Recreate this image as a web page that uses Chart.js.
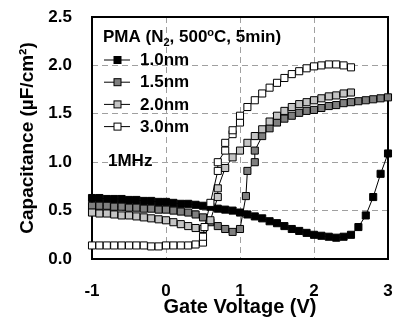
<!DOCTYPE html>
<html>
<head>
<meta charset="utf-8">
<script src="https://cdn.jsdelivr.net/npm/chart.js@4/dist/chart.umd.min.js"></script>
<style>
  html, body { margin: 0; padding: 0; background: #fff; }
</style>
</head>
<body>
<canvas id="grafico" width="394" height="326"></canvas>
<script>
// dados (V, uF/cm2)
const nomes = ['1.0nm', '1.5nm', '2.0nm', '3.0nm'];
const cores = ['#000000', '#7f7f7f', '#c4c4c4', '#ffffff'];

const v10 = [-1.0, -0.9, -0.8, -0.7, -0.6, -0.5, -0.4, -0.3, -0.2, -0.1, 0.0, 0.1, 0.2, 0.3, 0.4, 0.5, 0.6, 0.7, 0.8, 0.9,
  1.0, 1.1, 1.2, 1.3, 1.4, 1.5, 1.6, 1.7, 1.8, 1.9, 2.0, 2.1, 2.2, 2.3, 2.4, 2.5, 2.6, 2.7, 2.8, 2.9, 3.0];
const c10 = [0.63, 0.63, 0.62, 0.62, 0.62, 0.61, 0.61, 0.60, 0.60, 0.59, 0.59, 0.58, 0.57, 0.57, 0.56, 0.55, 0.54, 0.52, 0.51, 0.50,
  0.48, 0.46, 0.44, 0.42, 0.39, 0.37, 0.34, 0.31, 0.29, 0.27, 0.25, 0.24, 0.23, 0.22, 0.23, 0.25, 0.33, 0.45, 0.64, 0.88, 1.09];

const v15 = [-1.0, -0.9, -0.8, -0.7, -0.6, -0.5, -0.4, -0.3, -0.2, -0.1, 0.0, 0.1, 0.2, 0.3, 0.4, 0.5, 0.6, 0.7, 0.8, 0.9,
  1.0, 1.08, 1.1, 1.2, 1.2, 1.3, 1.4, 1.5, 1.6, 1.7, 1.8, 1.9, 2.0, 2.1, 2.2, 2.3, 2.4, 2.5, 2.6, 2.7, 2.8, 2.9, 3.0];
const c15 = [0.55, 0.55, 0.55, 0.54, 0.54, 0.53, 0.53, 0.52, 0.52, 0.51, 0.51, 0.50, 0.49, 0.48, 0.46, 0.43, 0.38, 0.34, 0.31, 0.28,
  0.31, 0.65, 0.91, 1.00, 1.12, 1.27, 1.35, 1.41, 1.45, 1.48, 1.51, 1.53, 1.54, 1.56, 1.58, 1.59, 1.61, 1.62, 1.63, 1.64, 1.65, 1.66, 1.67];

const v20 = [-1.0, -0.9, -0.8, -0.7, -0.6, -0.5, -0.4, -0.3, -0.2, -0.1, 0.0, 0.1, 0.2, 0.3, 0.4, 0.5,
  0.6, 0.7, 0.7, 0.8, 0.9, 1.0, 1.1, 1.2, 1.3, 1.4, 1.5, 1.6, 1.7, 1.8, 1.9, 2.0, 2.1, 2.2, 2.3, 2.4, 2.5];
const c20 = [0.48, 0.47, 0.47, 0.46, 0.45, 0.45, 0.44, 0.43, 0.42, 0.41, 0.40, 0.38, 0.36, 0.34, 0.32, 0.31,
  0.40, 0.64, 0.73, 0.94, 1.05, 1.12, 1.20, 1.27, 1.34, 1.42, 1.48, 1.53, 1.57, 1.60, 1.62, 1.64, 1.66, 1.68, 1.69, 1.71, 1.72];

const v30 = [-1.0, -0.9, -0.8, -0.7, -0.6, -0.5, -0.4, -0.3, -0.2, -0.1, 0.0, 0.1, 0.2, 0.3, 0.4, 0.5,
  0.5, 0.52, 0.6, 0.7, 0.7, 0.8, 0.8, 0.9, 0.9, 1.0, 1.0, 1.1, 1.2, 1.3, 1.4, 1.5, 1.6, 1.7, 1.8, 1.9, 2.0, 2.1, 2.2, 2.3, 2.4, 2.5];
const c30 = [0.14, 0.14, 0.14, 0.14, 0.14, 0.14, 0.14, 0.14, 0.13, 0.13, 0.14, 0.14, 0.14, 0.14, 0.15, 0.17,
  0.23, 0.33, 0.58, 0.91, 1.00, 1.12, 1.20, 1.29, 1.33, 1.41, 1.48, 1.57, 1.64, 1.71, 1.77, 1.82, 1.87, 1.91, 1.94, 1.97, 1.99, 2.00, 2.01, 2.01, 2.00, 1.98];

const xTicks = [-1, 0, 1, 2, 3];
const yTicks = [0.0, 0.5, 1.0, 1.5, 2.0, 2.5];

const fonte = "'Liberation Sans', Arial, sans-serif";
const series = [[v10, c10], [v15, c15], [v20, c20], [v30, c30]];

const datasets = series.map((s, i) => ({
  label: nomes[i],
  data: s[0].map((x, k) => ({ x, y: s[1][k] })),
  borderColor: '#000',
  borderWidth: 1,
  pointStyle: 'rect',
  pointRadius: 5,
  pointBorderWidth: 1,
  pointBorderColor: '#000',
  pointBackgroundColor: cores[i],
  tension: 0,
  fill: false,
  clip: false,
  order: 4 - i
}));

const moldura = {
  id: 'moldura',
  beforeDatasetsDraw(chart) {
    const { ctx, chartArea: a } = chart;
    ctx.save();
    ctx.strokeStyle = '#000';
    ctx.lineWidth = 2;
    ctx.strokeRect(a.left, a.top, a.right - a.left, a.bottom - a.top);
    ctx.restore();
  },
  afterDraw(chart) {
    const { ctx, chartArea: a } = chart;
    ctx.save();
    ctx.fillStyle = '#000';
    ctx.textBaseline = 'alphabetic';
    // titulo da legenda
    let x = a.left + 11;
    const yb = 41.5;
    const parte = (t, tam, dy) => {
      ctx.font = 'bold ' + tam + 'px ' + fonte;
      ctx.fillText(t, x, yb + dy);
      x += ctx.measureText(t).width;
    };
    parte('PMA (N', 17, 0);
    parte('2', 11, 4);
    parte(', 500', 17, 0);
    parte('o', 11, -6);
    parte('C, 5min)', 17, 0);

    // itens
    ctx.textBaseline = 'middle';
    ctx.font = 'bold 17px ' + fonte;
    nomes.forEach((n, i) => {
      const y = 60 + i * 22.2;
      ctx.strokeStyle = '#000';
      ctx.lineWidth = 1;
      ctx.beginPath();
      ctx.moveTo(a.left + 12, y);
      ctx.lineTo(a.left + 38, y);
      ctx.stroke();
      ctx.fillStyle = cores[i];
      ctx.fillRect(a.left + 22, y - 3.5, 7, 7);
      ctx.strokeRect(a.left + 22, y - 3.5, 7, 7);
      ctx.fillStyle = '#000';
      ctx.fillText(n, a.left + 48, y + 0.5);
    });
    ctx.fillText('1MHz', a.left + 16, 161);
    ctx.restore();
  }
};

const gradeCor = (lista) => (c) => {
  const v = c.tick ? c.tick.value : null;
  return (v === lista[0] || v === lista[lista.length - 1]) ? 'rgba(0,0,0,0)' : '#a0a0a0';
};

const ctx = document.getElementById('grafico').getContext('2d');
const grafico = new Chart(ctx, {
  type: 'line',
  data: { datasets },
  options: {
    responsive: false,
    animation: false,
    layout: { padding: { top: 17, right: 5, left: 0, bottom: 0 } },
    plugins: {
      legend: { display: false },
      tooltip: { enabled: false }
    },
    scales: {
      x: {
        type: 'linear',
        min: -1,
        max: 3,
        afterFit: s => { s.height = 67; s.paddingLeft = 0; s.paddingRight = 0; },
        afterBuildTicks: s => { s.ticks = xTicks.map(v => ({ value: v })); },
        ticks: {
          color: '#000',
          padding: 22,
          font: { family: fonte, size: 17, weight: 'bold' },
          callback: v => String(v)
        },
        grid: { color: gradeCor(xTicks), lineWidth: 1, drawTicks: false, tickLength: 0 },
        border: { display: false, dash: [6, 4] },
        title: {
          display: true,
          text: 'Gate Voltage (V)',
          color: '#000',
          padding: { top: 0, bottom: 7 },
          font: { family: fonte, size: 20, weight: 'bold' }
        }
      },
      y: {
        min: 0,
        max: 2.5,
        afterFit: s => { s.width = 92; s.paddingTop = 0; s.paddingBottom = 0; },
        afterBuildTicks: s => { s.ticks = yTicks.map(v => ({ value: v })); },
        ticks: {
          color: '#000',
          padding: 20,
          font: { family: fonte, size: 17, weight: 'bold' },
          callback: v => Number(v).toFixed(1)
        },
        grid: { color: gradeCor(yTicks), lineWidth: 1, drawTicks: false, tickLength: 0 },
        border: { display: false, dash: [6, 4] },
        title: {
          display: true,
          text: 'Capacitance (\u00B5F/cm\u00B2)',
          color: '#000',
          padding: { top: 16, bottom: 0 },
          font: { family: fonte, size: 19, weight: 'bold' }
        }
      }
    }
  },
  plugins: [moldura]
});
</script>
</body>
</html>
